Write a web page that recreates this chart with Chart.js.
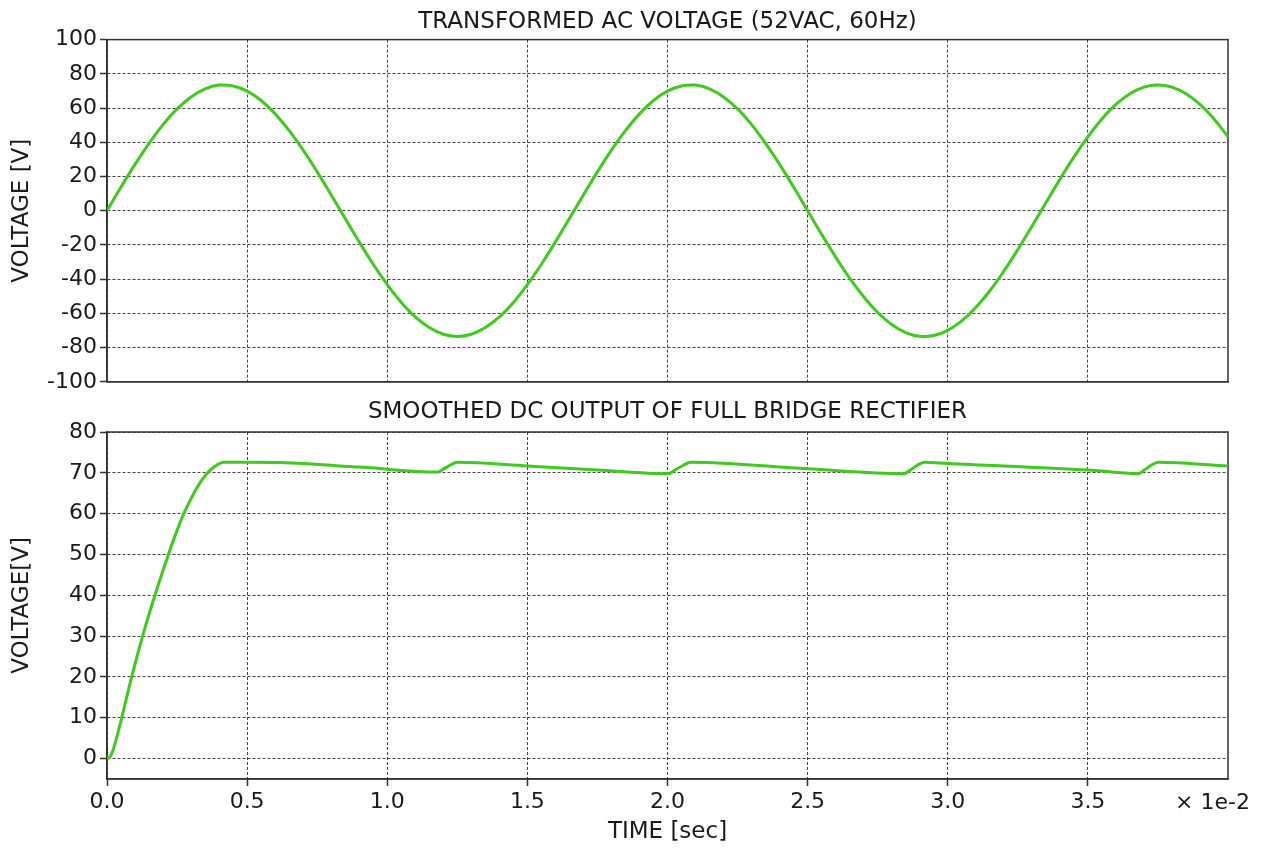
<!DOCTYPE html>
<html>
<head>
<meta charset="utf-8">
<script src="https://cdn.jsdelivr.net/npm/chart.js@4"></script>
<style>
  html, body { margin: 0; padding: 0; background: #fff; }
  #wrap { position: relative; width: 1261px; height: 849px; }
  #acChart { position: absolute; left: 0; top: 0; }
  #dcChart { position: absolute; left: 0; top: 398px; }
</style>
</head>
<body>
<div id="wrap">
  <canvas id="acChart" width="1261" height="398"></canvas>
  <canvas id="dcChart" width="1261" height="451"></canvas>
</div>
<script>
// time in units of 1e-2 sec
const acTime = [
  0, 0.05, 0.1, 0.15, 0.2, 0.25, 0.3, 0.35, 0.4, 0.45,
  0.5, 0.55, 0.6, 0.65, 0.7, 0.75, 0.8, 0.85, 0.9, 0.95,
  1.0, 1.05, 1.1, 1.15, 1.2, 1.25, 1.3, 1.35, 1.4, 1.45,
  1.5, 1.55, 1.6, 1.65, 1.7, 1.75, 1.8, 1.85, 1.9, 1.95,
  2.0, 2.05, 2.1, 2.15, 2.2, 2.25, 2.3, 2.35, 2.4, 2.45,
  2.5, 2.55, 2.6, 2.65, 2.7, 2.75, 2.8, 2.85, 2.9, 2.95,
  3.0, 3.05, 3.1, 3.15, 3.2, 3.25, 3.3, 3.35, 3.4, 3.45,
  3.5, 3.55, 3.6, 3.65, 3.7, 3.75, 3.8, 3.85, 3.9, 3.95,
  4.0
];
const acVolt = [
  0, 13.8, 27.1, 39.4, 50.3, 59.5, 66.5, 71.2, 73.4, 72.9,
  69.9, 64.4, 56.6, 46.8, 35.4, 22.7, 9.2, -4.6, -18.3, -31.3,
  -43.2, -53.6, -62.1, -68.3, -72.2, -73.5, -72.2, -68.3, -62.1, -53.6,
  -43.2, -31.3, -18.3, -4.6, 9.2, 22.7, 35.4, 46.8, 56.6, 64.4,
  69.9, 72.9, 73.4, 71.2, 66.5, 59.5, 50.3, 39.4, 27.1, 13.8,
  0, -13.8, -27.1, -39.4, -50.3, -59.5, -66.5, -71.2, -73.4, -72.9,
  -69.9, -64.4, -56.6, -46.8, -35.4, -22.7, -9.2, 4.6, 18.3, 31.3,
  43.2, 53.6, 62.1, 68.3, 72.2, 73.5, 72.2, 68.3, 62.1, 53.6,
  43.2
];
const dcTime = [
  0, 0.0125, 0.025, 0.0525, 0.088, 0.127, 0.171, 0.22, 0.25, 0.28,
  0.31, 0.34, 0.37, 0.39, 0.415, 0.5, 0.62, 0.9, 1.18, 1.2,
  1.225, 1.25, 1.5, 1.75, 2.003, 2.025, 2.055, 2.083, 2.5, 2.844,
  2.865, 2.89, 2.917, 3.0, 3.5, 3.68, 3.70, 3.725, 3.75, 4.0
];
const dcVolt = [
  0, 0.6, 2.8, 10, 20, 30, 40, 50.2, 55.9, 60.9,
  65.0, 68.4, 70.8, 71.8, 72.6, 72.6, 72.5, 71.4, 70.2, 70.9,
  71.9, 72.6, 71.7, 70.7, 69.8, 70.6, 71.8, 72.6, 71.0, 69.8,
  70.6, 71.8, 72.6, 72.3, 70.7, 69.8, 70.6, 71.8, 72.6, 71.7
];
const timeTicks = [0, 0.5, 1.0, 1.5, 2.0, 2.5, 3.0, 3.5];
const acTicks = [-100, -80, -60, -40, -20, 0, 20, 40, 60, 80, 100];
const dcTicks = [0, 10, 20, 30, 40, 50, 60, 70, 80];

const lineColor = '#3fcb1d';
const inkColor = '#1a1a1a';

Chart.defaults.font.family = "'DejaVu Sans', sans-serif";
Chart.defaults.color = inkColor;

const frame = {
  id: 'frame',
  beforeDatasetsDraw(chart) {
    const a = chart.chartArea, c = chart.ctx;
    c.save();
    c.strokeStyle = '#333';
    c.lineWidth = 1.5;
    c.strokeRect(a.left, a.top, a.right - a.left, a.bottom - a.top);
    c.restore();
  }
};

const multiplier = {
  id: 'multiplier',
  afterDraw(chart) {
    const x = chart.scales.x, c = chart.ctx;
    c.save();
    c.font = "22px 'DejaVu Sans', sans-serif";
    c.fillStyle = inkColor;
    c.textAlign = 'right';
    c.textBaseline = 'middle';
    c.fillText('\u00d7 1e-2', x.right + 22, x.top + 24);
    c.restore();
  }
};

function setTicks(list) {
  return function(scale) { scale.ticks = list.map(v => ({ value: v })); };
}

function grid() {
  return { color: '#444', lineWidth: 1, tickLength: 7, tickColor: '#333', tickWidth: 1.5, tickBorderDash: [] };
}

function makeChart(id, time, volt, opts) {
  return new Chart(document.getElementById(id).getContext('2d'), {
    type: 'line',
    data: {
      datasets: [{
        data: time.map((t, i) => ({ x: t, y: volt[i] })),
        borderColor: lineColor,
        borderWidth: 3,
        pointRadius: 0,
        fill: false,
        tension: opts.tension,
        cubicInterpolationMode: opts.mode
      }]
    },
    options: {
      responsive: false,
      animation: false,
      layout: { padding: { left: 0, top: 0, bottom: 0, right: 33 } },
      plugins: {
        legend: { display: false },
        tooltip: { enabled: false },
        title: {
          display: true,
          fullSize: false,
          text: opts.title,
          color: inkColor,
          font: { size: 23, weight: 'normal' },
          padding: opts.titlePad
        }
      },
      scales: {
        x: {
          type: 'linear',
          min: 0, max: 4,
          afterBuildTicks: setTicks(timeTicks),
          afterFit: function(s) { s.height = opts.xHeight; },
          grid: Object.assign(grid(), { drawTicks: opts.showX }),
          border: { color: '#333', width: 1.5, dash: [3, 2] },
          ticks: {
            display: opts.showX,
            maxRotation: 0,
            autoSkip: false,
            padding: 3,
            font: { size: 22 },
            callback: v => v.toFixed(1)
          },
          title: {
            display: opts.showX,
            text: 'TIME [sec]',
            font: { size: 23 },
            padding: { top: 0, bottom: 3 }
          }
        },
        y: {
          min: opts.yMin, max: opts.yMax,
          afterBuildTicks: setTicks(opts.yTicks),
          afterFit: function(s) { s.width = 107; },
          grid: grid(),
          border: { color: '#333', width: 1.5, dash: [3, 2] },
          ticks: { padding: 3, font: { size: 22 }, callback: v => String(v) },
          title: {
            display: true,
            text: opts.yTitle,
            font: { size: 23 },
            padding: { top: 8, bottom: 0 }
          }
        }
      }
    },
    plugins: opts.showX ? [frame, multiplier] : [frame]
  });
}

document.addEventListener('DOMContentLoaded', function() {
  try {
    makeChart('acChart', acTime, acVolt, {
      title: 'TRANSFORMED AC VOLTAGE (52VAC, 60Hz)',
      titlePad: { top: 8, bottom: 4 },
      yTitle: 'VOLTAGE [V]',
      yMin: -100, yMax: 100, yTicks: acTicks,
      showX: false, xHeight: 11,
      tension: 0.4, mode: 'default'
    });
    makeChart('dcChart', dcTime, dcVolt, {
      title: 'SMOOTHED DC OUTPUT OF FULL BRIDGE RECTIFIER',
      titlePad: { top: 0, bottom: 6.4 },
      yTitle: 'VOLTAGE[V]',
      yMin: -5, yMax: 80, yTicks: dcTicks,
      showX: true, xHeight: 70,
      tension: 0.4, mode: 'monotone'
    });
  } catch (e) { console.error(e); }
});
</script>
</body>
</html>
